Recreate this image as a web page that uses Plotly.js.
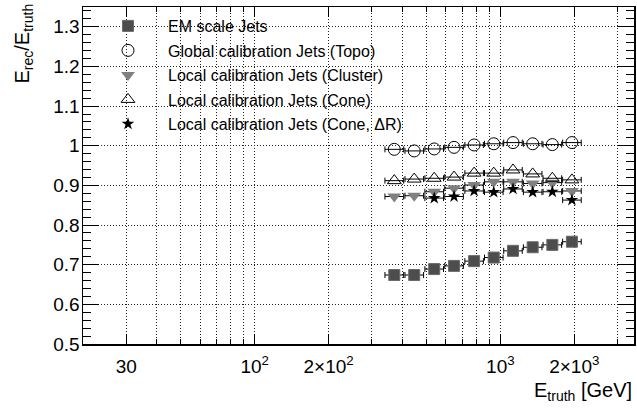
<!DOCTYPE html>
<html>
<head>
<meta charset="utf-8">
<script src="https://cdn.plot.ly/plotly-3.0.1.min.js"></script>
<style>
  html, body { margin: 0; padding: 0; background: #fff; }
  #chart { width: 637px; height: 409px; }
</style>
</head>
<body>
<div id="chart"></div>
<script>
// Jet energy response E_rec/E_truth versus E_truth for several calibration schemes

// Bin centres in E_truth [GeV] and the bin edges used for the horizontal error bars
const eTruth   = [370, 446, 538, 648, 782, 940, 1126, 1354, 1628, 1956];
const binLow   = [339, 409, 493, 594, 717, 862, 1032, 1241, 1492, 1793];
const binHigh  = [404, 487, 587, 707, 853, 1026, 1228, 1477, 1776, 2134];

// Response for each jet collection
const emScale      = [0.674, 0.674, 0.689, 0.697, 0.709, 0.718, 0.735, 0.744, 0.750, 0.758];
const globalTopo   = [0.991, 0.987, 0.992, 0.996, 1.002, 1.005, 1.008, 1.005, 1.003, 1.008];
const localCluster = [0.872, 0.874, 0.884, 0.893, 0.901, 0.909, 0.909, 0.905, 0.907, 0.886];
const localCone    = [0.912, 0.916, 0.918, 0.921, 0.931, 0.931, 0.939, 0.929, 0.918, 0.914];
// Cone ΔR collection starts at the third bin
const coneDRStart  = 2;
const localConeDR  = [0.868, 0.872, 0.886, 0.883, 0.891, 0.883, 0.884, 0.863];

const seriesNames = [
  'EM scale Jets',
  'Global calibration Jets (Topo)',
  'Local calibration Jets (Cluster)',
  'Local calibration Jets (Cone)',
  'Local calibration Jets (Cone, \u0394R)'
];

// Axis tick labels
const xTickVals = [30, 100, 200, 1000, 2000];
const xTickText = ['30', '10<sup>2</sup>', '2\u00d710<sup>2</sup>', '10<sup>3</sup>', '2\u00d710<sup>3</sup>'];
const xGridVals = [20, 30, 40, 50, 60, 70, 80, 90, 100, 200, 300, 400, 500, 600, 700, 800, 900, 1000, 2000, 3000];

// ---- layout geometry (pixels) ----
const W = 637, H = 409;
const M = { l: 83, r: 3, t: 7, b: 65 };
const plotW = W - M.l - M.r, plotH = H - M.t - M.b;
const px = x => (x - M.l) / plotW;          // pixel x -> paper x
const py = y => (H - M.b - y) / plotH;      // pixel y -> paper y

const FONT = 'Liberation Sans, Arial, Helvetica, sans-serif';

function xErrors(xs, lo, hi) {
  return {
    type: 'data', symmetric: false,
    array: xs.map((x, i) => hi[i] - x),
    arrayminus: xs.map((x, i) => x - lo[i]),
    color: '#000', thickness: 1, width: 3
  };
}

const styles = [
  { symbol: 'square',           size: 11, color: '#4d4d4d', line: { color: '#6a6a6a', width: 1 } },
  { symbol: 'circle-open',      size: 12, color: '#000',    line: { color: '#000', width: 1 } },
  { symbol: 'triangle-down',    size: 12, color: '#808080', line: { color: '#808080', width: 0 } },
  { symbol: 'triangle-up-open', size: 12, color: '#000',    line: { color: '#000', width: 1 } },
  { symbol: 'star',             size: 9.5, color: '#000',   line: { color: '#000', width: 0 } }
];

const seriesY = [emScale, globalTopo, localCluster, localCone, localConeDR];
const traces = seriesY.map((ys, k) => {
  const start = (k === 4) ? coneDRStart : 0;
  const xs = eTruth.slice(start, start + ys.length);
  const lo = binLow.slice(start, start + ys.length);
  const hi = binHigh.slice(start, start + ys.length);
  const st = styles[k];
  return {
    type: 'scatter', mode: 'markers',
    name: seriesNames[k],
    legendgroup: 'g' + k,
    x: xs, y: ys,
    error_x: xErrors(xs, lo, hi),
    marker: { symbol: st.symbol, size: st.size, color: st.color, line: st.line },
    cliponaxis: false
  };
});

const gridDash = '1px,2px';

const layout = {
  width: W, height: H,
  margin: M,
  paper_bgcolor: '#fff', plot_bgcolor: '#fff',
  font: { family: FONT, color: '#000', size: 19 },
  showlegend: true,
  legend: {
    x: px(88), y: py(9), xanchor: 'left', yanchor: 'top',
    bgcolor: 'rgba(0,0,0,0)', borderwidth: 0,
    font: { family: FONT, size: 16, color: '#000' },
    itemwidth: 70, tracegroupgap: 0.7, traceorder: 'grouped'
  },
  xaxis: {
    type: 'log',
    range: [Math.log10(20), Math.log10(3500)],
    tickmode: 'array', tickvals: xTickVals, ticktext: xTickText,
    ticks: 'inside', ticklen: 10, tickcolor: '#000', tickwidth: 1,
    ticklabelstandoff: 5,
    showline: true, linecolor: '#000', linewidth: 1.5, mirror: 'allticks',
    showgrid: true, gridcolor: '#222', gridwidth: 1, griddash: gridDash,
    zeroline: false,
    tickfont: { family: FONT, size: 19, color: '#000' },
    minor: {
      tickmode: 'array', tickvals: xGridVals,
      ticks: 'inside', ticklen: 5, tickcolor: '#000',
      showgrid: true, gridcolor: '#222', gridwidth: 1, griddash: gridDash
    }
  },
  yaxis: {
    range: [0.5, 1.35],
    tickmode: 'linear', tick0: 0.5, dtick: 0.1,
    ticks: 'inside', ticklen: 16, tickcolor: '#000', tickwidth: 1,
    ticklabelstandoff: -2,
    showline: true, linecolor: '#000', linewidth: 1.5, mirror: 'allticks',
    showgrid: true, gridcolor: '#222', gridwidth: 1, griddash: gridDash,
    zeroline: false,
    tickfont: { family: FONT, size: 19, color: '#000' },
    minor: { dtick: 0.02, ticks: 'inside', ticklen: 8, tickcolor: '#000', showgrid: false }
  },
  shapes: [
    // white panel behind the legend entries
    { type: 'rect', xref: 'paper', yref: 'paper', layer: 'between',
      x0: px(M.l), x1: px(402), y0: py(131), y1: py(M.t),
      fillcolor: '#fff', line: { width: 0 } }
  ],
  annotations: [
    { text: 'E<sub>truth</sub> [GeV]', xref: 'paper', yref: 'paper',
      x: 1, y: py(377), xanchor: 'right', yanchor: 'top', showarrow: false,
      font: { family: FONT, size: 20, color: '#000' } },
    { text: 'E<sub>rec</sub>/E<sub>truth</sub>', xref: 'paper', yref: 'paper',
      x: px(8), y: py(2), xanchor: 'left', yanchor: 'top', showarrow: false,
      textangle: -90,
      font: { family: FONT, size: 20, color: '#000' } }
  ]
};

Plotly.newPlot('chart', traces, layout, { displayModeBar: false, staticPlot: true });
</script>
</body>
</html>
